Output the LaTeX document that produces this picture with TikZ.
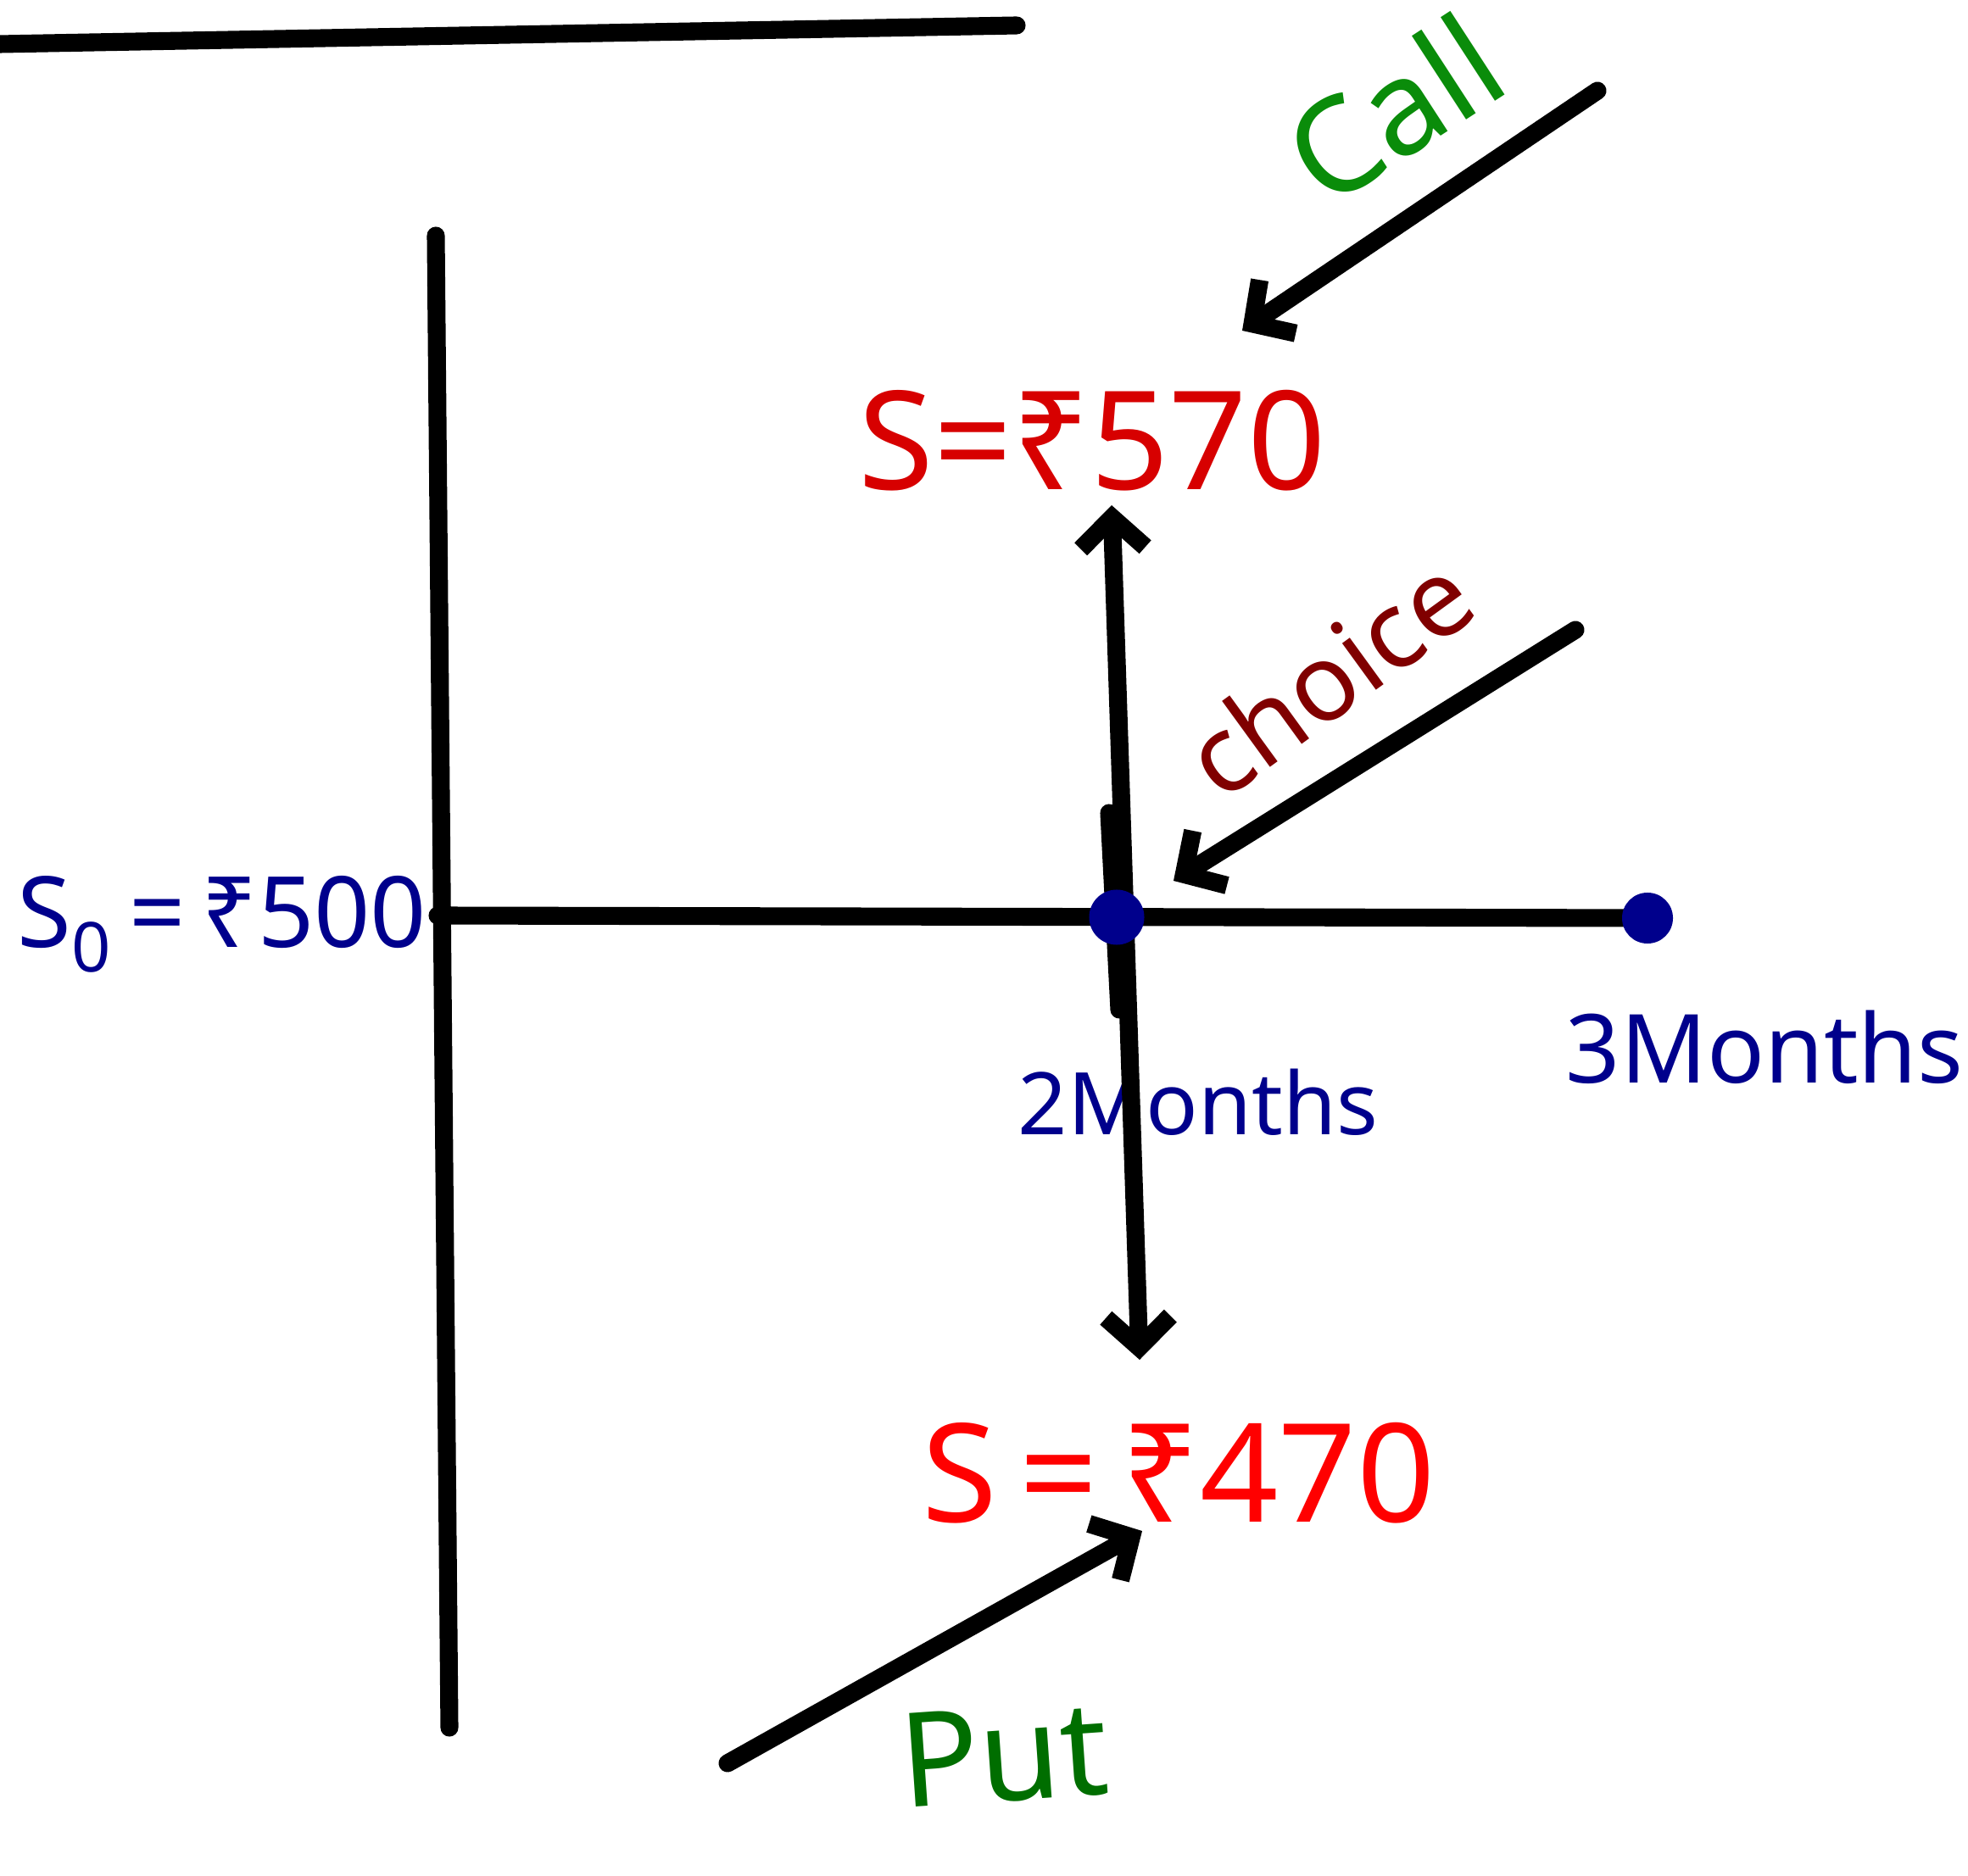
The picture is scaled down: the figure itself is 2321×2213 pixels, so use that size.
\documentclass[tikz,border=0pt]{standalone}
\usepackage{fontspec}
\setmainfont{Noto Sans}
\usetikzlibrary{arrows.meta}
\definecolor{upred}{RGB}{215,0,0}
\definecolor{downred}{RGB}{255,0,0}
\definecolor{inkblue}{RGB}{0,0,140}
\definecolor{callgreen}{RGB}{10,140,10}
\definecolor{putgreen}{RGB}{0,110,0}
\definecolor{choicered}{RGB}{128,0,0}
\tikzset{
  pen/.style={line width=6pt, line cap=round, line join=round},
  barb/.style={pen, -{Straight Barb[length=3.6mm, width=7.6mm]}},
  twobarb/.style={pen, {Straight Barb[length=3.6mm, width=7.6mm]}-{Straight Barb[length=3.6mm, width=7.6mm]}},
  price/.style={inner sep=0pt, font=\fontsize{46}{48}\selectfont},
  timelbl/.style={inner sep=0pt, text=inkblue, font=\fontsize{32}{34}\selectfont},
  tag/.style={inner sep=0pt, font=\fontsize{44}{46}\selectfont},
  dot/.style={circle, fill=inkblue, inner sep=0pt, minimum size=#1},
}

\begin{document}
\begin{tikzpicture}[x=0.01cm, y=-0.01cm]
  \useasboundingbox (0,0) rectangle (2321,2213);
  % axes
  \coordinate (topL) at (0,52);
  \coordinate (topR) at (1199,30);
  \coordinate (vTop) at (514,278);
  \coordinate (vBot) at (530,2038);
  \coordinate (origin) at (516,1080);
  \coordinate (end3) at (1943,1083);
  \draw[pen] (topL) -- (topR);
  \draw[pen] (vTop) -- (vBot);
  \draw[pen] (origin) -- (end3);
  % labels
  \node[price, text=inkblue, font=\fontsize{33}{35}\selectfont] (s0) at (262,1090) {S\textsubscript{0}\,=\,₹500};
  \node[timelbl, font=\fontsize{29}{31}\selectfont] (m2) at (1413,1300) {2Months};
  \node[timelbl] (m3) at (2081,1235) {3Months};
  \node[price, text=upred] (up) at (1288,520) {S=₹570};
  \node[price, text=downred, font=\fontsize{46}{48}\selectfont] (down) at (1390,1738) {S\,=\,₹470};
  \node[tag, text=callgreen, rotate=33] (call) at (1643,128) {Call};
  \node[tag, text=choicered, rotate=36, font=\fontsize{36}{38}\selectfont] (choice) at (1566,797) {choice};
  \node[tag, text=putgreen, rotate=4] (put) at (1184,2070) {Put};
  % arrows
  \coordinate (upTip) at (1311,596);
  \coordinate (downTip) at (1344,1604);
  \coordinate (tick1) at (1308,959);
  \coordinate (tick2) at (1320,1191);
  \draw[twobarb] (upTip) -- (downTip);
  \draw[pen] (tick1) -- (tick2);
  \coordinate (callTail) at (1884,107);
  \coordinate (callTip) at (1465,390);
  \draw[barb] (callTail) -- (callTip);
  \coordinate (choiceTail) at (1858,743);
  \coordinate (choiceTip) at (1384,1039);
  \draw[barb] (choiceTail) -- (choiceTip);
  \coordinate (putTail) at (858,2080);
  \coordinate (putTip) at (1347,1806);
  \draw[barb] (putTail) -- (putTip);
  % time points
  \node[dot=6.5mm] (two) at (1317,1082) {};
  \node[dot=6mm] (three) at (end3) {};
\end{tikzpicture}
\end{document}
